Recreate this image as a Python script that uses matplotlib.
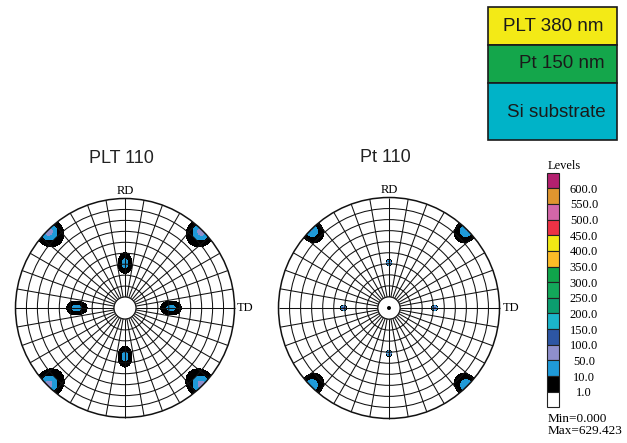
import matplotlib
matplotlib.use('Agg')
import matplotlib.pyplot as plt
import numpy as np
from matplotlib.patches import Circle, Rectangle
from matplotlib.collections import LineCollection

W, H = 627, 443

# intensity levels (lower bounds) and fill colours, lowest band first
levels = [1.0, 10.0, 50.0, 100.0, 150.0, 200.0, 250.0, 300.0, 350.0, 400.0, 450.0, 500.0, 550.0, 600.0]
level_colors = ['#ffffff', '#000000', '#1f9ad8', '#8e8fcc', '#2d56a4', '#1bb5ca', '#0b9d6f',
                '#13a85a', '#10a54b', '#fbbc27', '#f1e815', '#ec3245', '#d366a8', '#df952f', '#b3206f']
int_min, int_max = 0.000, 629.423

# pole components: azimuth from TD (deg), distance from centre (fraction of radius),
# peak intensity, radial and tangential spread; rim poles = broad halo + sharp core
plt_azim = [90, 0, 180, 270,
            45, 135, 225, 315,
            45, 135, 225, 315]
plt_dist = [0.41, 0.42, 0.44, 0.445,
            0.965, 0.965, 0.96, 0.96,
            0.99, 0.99, 0.99, 0.99]
plt_peak = [16, 16, 16, 16,
            10, 10, 10, 10,
            70, 70, 66, 66]
plt_sig_r = [0.040, 0.040, 0.040, 0.040,
             0.060, 0.060, 0.060, 0.060,
             0.035, 0.035, 0.035, 0.035]
plt_sig_t = [0.027, 0.027, 0.027, 0.027,
             0.055, 0.055, 0.055, 0.055,
             0.032, 0.032, 0.032, 0.032]

pt_azim = [90, 0, 180, 270,
           45, 135, 225, 315,
           45, 135, 225, 315]
pt_dist = [0.41, 0.415, 0.41, 0.41,
           0.975, 0.975, 0.975, 0.975,
           1.0, 1.0, 1.0, 1.0]
pt_peak = [160, 150, 150, 160,
           8, 8, 8, 8,
           45, 45, 40, 40]
pt_sig_r = [0.009, 0.009, 0.009, 0.009,
            0.050, 0.050, 0.050, 0.050,
            0.030, 0.030, 0.030, 0.030]
pt_sig_t = [0.008, 0.008, 0.008, 0.008,
            0.045, 0.045, 0.045, 0.045,
            0.026, 0.026, 0.026, 0.026]

# film stack
layer_names = ['PLT 380 nm', 'Pt 150 nm', 'Si substrate']
layer_colors = ['#f3ea16', '#14a64b', '#00b3c8']

plt.rcParams['font.family'] = ['Liberation Sans', 'DejaVu Sans']
serif = ['Liberation Serif', 'DejaVu Serif']

fig = plt.figure(figsize=(W / 100, H / 100), dpi=100)


def px_axes(x0, y0, w, h):
    return fig.add_axes([x0 / W, 1 - (y0 + h) / H, w / W, h / H])


def pole_field(X, Y, azim, dist, peak, sig_r, sig_t):
    Z = np.zeros_like(X)
    for a, d, p, sr, st in zip(azim, dist, peak, sig_r, sig_t):
        c, s = np.cos(np.radians(a)), np.sin(np.radians(a))
        dx, dy = X - d * c, Y - d * s
        dr = dx * c + dy * s
        dt = -dx * s + dy * c
        Z += p * np.exp(-0.5 * (dr / sr) ** 2 - 0.5 * (dt / st) ** 2)
    return Z


def pole_figure(cx, cy, R, title, azim, dist, peak, sig_r, sig_t, dot=False):
    half = 120
    ax = px_axes(cx - half, cy - half, 2 * half, 2 * half)
    lim = half / R
    ax.set_xlim(-lim, lim)
    ax.set_ylim(-lim, lim)
    ax.set_aspect('equal')
    ax.axis('off')

    g = np.linspace(-1.05, 1.05, 801)
    X, Y = np.meshgrid(g, g)
    Z = pole_field(X, Y, azim, dist, peak, sig_r, sig_t)
    cs = ax.contourf(X, Y, Z, levels=[0] + levels + [1e4], colors=level_colors, zorder=1)
    rim = Circle((0, 0), 1.0, transform=ax.transData, fill=False)
    cs.set_clip_path(rim)

    # polar grid: rings every tenth of the radius, spokes every 10 deg
    for r in np.arange(0.1, 1.01, 0.1):
        ax.add_patch(Circle((0, 0), r, fill=False, ec='#111111',
                            lw=1.1 if r > 0.99 else 0.75, zorder=2))
    ang = np.radians(np.arange(0, 360, 10))
    spokes = [[(0.1 * np.cos(a), 0.1 * np.sin(a)), (np.cos(a), np.sin(a))] for a in ang]
    ax.add_collection(LineCollection(spokes, colors='#111111', lw=0.75, zorder=2))
    ax.add_patch(Circle((0, 0), 0.1, fc='white', ec='#111111', lw=0.75, zorder=3))
    if dot:
        ax.add_patch(Circle((0, 0), 0.018, fc='black', ec='none', zorder=4))

    ax.text(0, 1.065, 'RD', ha='center', va='center', fontsize=9, family=serif)
    ax.text(1.025, 0, 'TD', ha='left', va='center', fontsize=9, family=serif)
    ax.text(-0.03, 1.365, title, ha='center', va='center', fontsize=13, color='#222222')
    return ax


pole_figure(125, 308, 109.5, 'PLT 110', plt_azim, plt_dist, plt_peak, plt_sig_r, plt_sig_t)
pole_figure(389, 308, 110.5, 'Pt 110', pt_azim, pt_dist, pt_peak, pt_sig_r, pt_sig_t, dot=True)

# overlay in pixel units for the level key and the film stack
ov = px_axes(0, 0, W, H)
ov.set_xlim(0, W)
ov.set_ylim(H, 0)
ov.axis('off')

box_h = 15.64
top = 172.7
ov.text(548, 166, 'Levels', ha='left', va='center', fontsize=9, family=serif)
for i, col in enumerate(level_colors[::-1]):
    ov.add_patch(Rectangle((547.3, top + i * box_h), 11.7, box_h, fc=col, ec='#222222', lw=0.8))
for i, lv in enumerate(levels[::-1]):
    ov.text(584, top + (i + 1) * box_h + 1.5, f'{lv:.1f}', ha='center', va='center',
            fontsize=9, family=serif)
ov.text(548, 419.5, f'Min={int_min:.3f}', ha='left', va='center', fontsize=9.5, family=serif)
ov.text(548, 431.5, f'Max={int_max:.3f}', ha='left', va='center', fontsize=9.5, family=serif)

layer_top = [7.3, 45.0, 82.7]
layer_bot = [45.0, 82.7, 140.0]
text_x = [553, 561.5, 556]
for name, col, y0, y1, tx in zip(layer_names, layer_colors, layer_top, layer_bot, text_x):
    ov.add_patch(Rectangle((488.3, y0), 129, y1 - y0, fc=col, ec='#1a1a1a', lw=1.2))
    ov.text(tx, (y0 + y1) / 2 + (1 if y1 - y0 > 50 else 0), name, ha='center', va='center',
            fontsize=13.5, color='#1a1a1a')

fig.savefig('out.png', dpi=100)
